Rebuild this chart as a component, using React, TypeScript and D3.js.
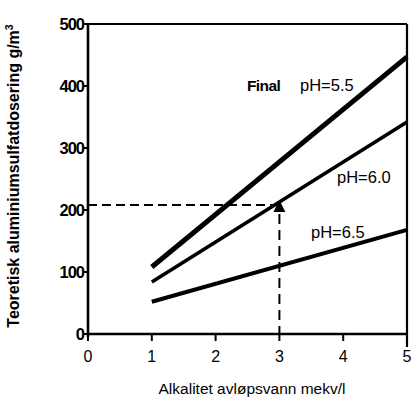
import React from "react";
import * as d3 from "d3";

const xTicks = [0, 1, 2, 3, 4, 5];
const yTicks = [0, 100, 200, 300, 400, 500];
const alkalinity = [1, 5];
const seriesNames = ["pH=5.5", "pH=6.0", "pH=6.5"];
const ph55 = [108, 447];
const ph60 = [84, 342];
const ph65 = [52, 168];
const refX = 3;
const refY = 208;

const W = 416;
const H = 398;
const FONT = "'Liberation Sans', Arial, Helvetica, sans-serif";

export default function App() {
  const x = d3.scaleLinear().domain([0, 5]).range([88, 407]);
  const y = d3.scaleLinear().domain([0, 500]).range([334, 24]);
  const line = d3
    .line<[number, number]>()
    .x((d) => x(d[0]))
    .y((d) => y(d[1]));
  const series = [ph55, ph60, ph65];
  const widths = [5, 3.6, 4];
  const labelPos = [
    { x: 300, y: 91 },
    { x: 337, y: 183 },
    { x: 311, y: 238 },
  ];
  const tipX = x(refX);
  const tipY = y(refY) - 5;

  return (
    <svg
      width={W}
      height={H}
      style={{ position: "absolute", left: 0, top: 0, background: "#fff" }}
      fontFamily={FONT}
    >
      {/* frame */}
      <line x1={x(0)} x2={x(5)} y1={y(500)} y2={y(500)} stroke="#000" strokeWidth={2} />
      <line x1={x(5)} x2={x(5)} y1={y(500)} y2={y(0) + 13} stroke="#000" strokeWidth={2.2} />
      <line x1={x(0)} x2={x(0)} y1={y(500)} y2={y(0) + 3} stroke="#000" strokeWidth={2.6} />
      <line x1={x(0) - 1} x2={x(5)} y1={y(0)} y2={y(0)} stroke="#000" strokeWidth={2.6} />

      {/* y ticks */}
      {yTicks.map((t) => (
        <g key={"y" + t}>
          <line x1={x(0) - 4} x2={x(0)} y1={y(t)} y2={y(t)} stroke="#000" strokeWidth={2} />
          <text
            x={x(0) - 4}
            y={y(t) + 6}
            textAnchor="end"
            fontSize={16.5}
            fontWeight="bold"
            letterSpacing={-1}
          >
            {t}
          </text>
        </g>
      ))}

      {/* x ticks */}
      {xTicks.map((t) => (
        <g key={"x" + t}>
          <line x1={x(t)} x2={x(t)} y1={y(0)} y2={y(0) + 7} stroke="#000" strokeWidth={2} />
          <text x={x(t)} y={y(0) + 28} textAnchor="middle" fontSize={16}>
            {t}
          </text>
        </g>
      ))}

      {/* series */}
      {series.map((s, i) => (
        <path
          key={seriesNames[i]}
          d={line(alkalinity.map((a, j) => [a, s[j]] as [number, number])) || ""}
          stroke="#000"
          strokeWidth={widths[i]}
          fill="none"
        />
      ))}

      {/* labels */}
      <text x={247} y={91} fontSize={15.5} fontWeight="bold" letterSpacing={-0.6}>
        Final
      </text>
      {seriesNames.map((n, i) => (
        <text key={"l" + n} x={labelPos[i].x} y={labelPos[i].y} fontSize={16.5}>
          {n}
        </text>
      ))}

      {/* dashed reference */}
      <line
        x1={x(0)}
        x2={tipX - 6}
        y1={y(refY)}
        y2={y(refY)}
        stroke="#000"
        strokeWidth={2}
        strokeDasharray="9,5"
      />
      <line
        x1={tipX}
        x2={tipX}
        y1={tipY + 14}
        y2={y(0)}
        stroke="#000"
        strokeWidth={2}
        strokeDasharray="10,6"
      />
      <path
        d={`M${tipX},${tipY} L${tipX + 6},${tipY + 12} L${tipX - 6},${tipY + 12} Z`}
        fill="#000"
      />

      {/* axis titles */}
      <text x={252} y={394} textAnchor="middle" fontSize={15.5}>
        Alkalitet avløpsvann mekv/l
      </text>
      <text
        transform="translate(19,176) rotate(-90)"
        textAnchor="middle"
        fontSize={16}
        fontWeight="bold"
      >
        Teoretisk aluminiumsulfatdosering g/m
        <tspan fontSize={10.5} dy={-6}>3</tspan>
      </text>
    </svg>
  );
}
